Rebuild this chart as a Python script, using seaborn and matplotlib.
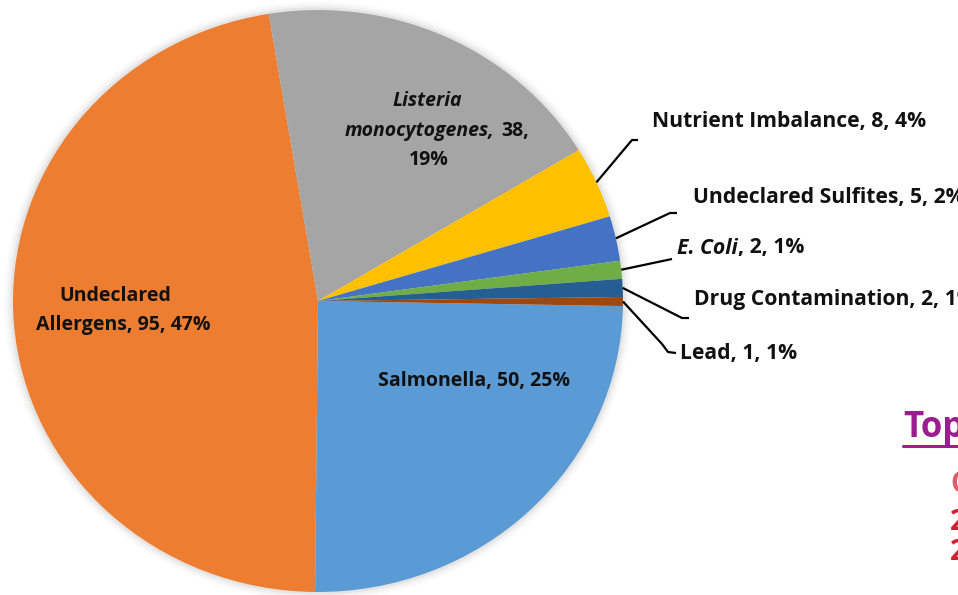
import matplotlib
matplotlib.use("Agg")
import matplotlib.pyplot as plt
from matplotlib.patches import Circle
import numpy as np
import seaborn as sns

# ---- data ----
categories = ["Salmonella", "Undeclared Allergens", "Listeria monocytogenes",
              "Nutrient Imbalance", "Undeclared Sulfites", "E. Coli",
              "Drug Contamination", "Lead"]
counts = [50, 95, 38, 8, 5, 2, 2, 1]
percents = [25, 47, 19, 4, 2, 1, 1, 1]
colors = ["#5B9BD5", "#ED7D31", "#A5A5A5", "#FFC000", "#4472C4",
          "#70AD47", "#255E91", "#9E480E"]

sns.set_theme(style="white")
plt.rcParams['font.family'] = ['Open Sans', 'DejaVu Sans']

W, H = 958, 595
fig = plt.figure(figsize=(W / 100, H / 100), dpi=100)
ax = fig.add_axes([0, 0, 1, 1])

CX, CY, RX, RY = 318, 301, 305, 291


def px(x, y):
    return ((x - CX) / RX, (CY - y) / RY)


# soft halo around pie
for r, a in [(1.028, 0.05), (1.018, 0.08), (1.009, 0.14)]:
    ax.add_patch(Circle((0, 0), r, color="#9a9a9a", alpha=a, lw=0, zorder=0))

wedges, _ = ax.pie(counts, colors=colors, startangle=-1, counterclock=False,
                   radius=1, wedgeprops=dict(linewidth=0))
for w in wedges:
    w.set_zorder(1)

ax.set_aspect('auto')
ax.set_xlim(px(0, 0)[0], px(W, 0)[0])
ax.set_ylim(px(0, H)[1], px(0, 0)[1])
ax.axis('off')

FS_IN = 14
FS_OUT = 15.2


def lbl(x, y, s, ha='left', style='normal', fs=FS_IN):
    X, Y = px(x, y)
    return ax.text(X, Y, s, ha=ha, va='center', fontstyle=style, fontsize=fs,
                   fontweight='bold', color='#111111', zorder=5)


# inside labels
lbl(115, 296, "Undeclared", ha='center')
lbl(123, 325, f"Allergens, {counts[1]}, {percents[1]}%", ha='center')
lbl(378, 381, f"Salmonella, {counts[0]}, {percents[0]}%")
lbl(427, 101, "Listeria", ha='center', style='italic')
lbl(494, 131, "monocytogenes,", ha='right', style='italic')
lbl(501, 131, f"{counts[2]},")
lbl(429, 160, f"{percents[2]}%", ha='center')

# outside labels with leader lines
outside = {
    3: dict(text=(652, 122), path=[(632, 140), (638, 140)]),
    4: dict(text=(693, 197), path=[(670, 213), (677, 213)]),
    5: dict(text=(677, 248), path=[(672, 259)]),
    6: dict(text=(694, 300), path=[(682, 318), (689, 318)]),
    7: dict(text=(680, 354), path=[(662, 344), (668, 352), (676, 353)]),
}
for i, spec in outside.items():
    w = wedges[i]
    mid = np.deg2rad((w.theta1 + w.theta2) / 2)
    sx, sy = np.cos(mid) * 1.0, np.sin(mid) * 1.0
    pts = [(sx, sy)] + [px(*p) for p in spec['path']]
    ax.plot([p[0] for p in pts], [p[1] for p in pts], color='black', lw=1.6,
            zorder=4, solid_capstyle='butt')
    tx, ty = spec['text']
    if i == 5:
        t = lbl(tx, ty, "E. Coli", style='italic', fs=FS_OUT)
        ax.annotate(f", {counts[i]}, {percents[i]}%", xy=(1, 0.5), xycoords=t,
                    ha='left', va='center', fontsize=FS_OUT, fontweight='bold',
                    color='#111111', zorder=5)
    else:
        lbl(tx, ty, f"{categories[i]}, {counts[i]}, {percents[i]}%", fs=FS_OUT)

# background slide remnants
X, Y = px(903, 428)
ax.text(X, Y, "Top", fontsize=25, fontweight='bold', color='#9B1D8F',
        ha='left', va='center')
ax.plot([px(903, 446)[0], px(958, 446)[0]], [px(0, 446)[1]] * 2,
        color='#9B1D8F', lw=2.2)
for yy, s, c in [(485, "C", "#D9606B"), (522, "2", "#D0202F"), (552, "2", "#D0202F")]:
    X, Y = px(950, yy)
    ax.text(X, Y, s, fontsize=20, fontweight='bold', color=c, ha='left', va='center')

fig.savefig("out.png", dpi=100)
